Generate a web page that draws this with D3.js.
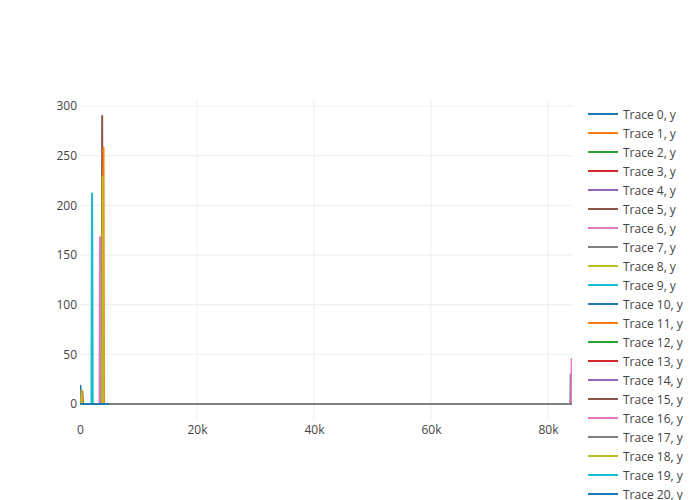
<!DOCTYPE html>
<html>
<head>
<meta charset="utf-8">
<script src="https://cdn.jsdelivr.net/npm/d3@7/dist/d3.min.js"></script>
<style>
  html, body { margin: 0; padding: 0; background: #fff; }
  svg { display: block; font-family: "Open Sans", "Noto Sans", sans-serif; }
</style>
</head>
<body>
<svg id="chart" width="700" height="500"></svg>
<script>
// ---- data ----
const traceNames = d3.range(21).map(i => "Trace " + i + ", y");
const traceColors = ["#1f77b4","#ff7f0e","#2ca02c","#d62728","#9467bd","#8c564b","#e377c2","#7f7f7f","#bcbd22","#17becf"];

const traceX = [
  [0, 80, 160],                 // 0
  [250, 330, 410],              // 1
  [0, 500, 1000],               // 2
  [320, 400, 480],              // 3
  [1000, 2500, 3000],           // 4
  [3710, 3790, 3870],           // 5
  [3340, 3420, 3500],           // 6
  [0, 83800, 83880, 83960],     // 7
  [210, 290, 370],              // 8
  [2000, 2060, 2120],           // 9
  [3730, 3810, 3890],           // 10
  [3940, 4020, 4100],           // 11
  [3790, 3870, 3950],           // 12
  [0, 1500, 4000],              // 13
  [500, 2000, 3500],            // 14
  [0, 3000, 6000],              // 15
  [83980, 84040],               // 16
  [0, 84100],                   // 17
  [3770, 3850, 3930],           // 18
  [1990, 2050, 2080, 2140],     // 19
  [0, 2000, 5000]               // 20
];
const traceY = [
  [0, 18.5, 0],
  [0, 13, 0],
  [0, 0, 0],
  [0, 12.8, 0],
  [0, 0, 0],
  [0, 290, 0],
  [0, 168, 0],
  [0, 0, 30, 0],
  [0, 13.5, 0],
  [0, 212, 0],
  [0, 158, 0],
  [0, 258, 0],
  [0, 66, 0],
  [0, 0, 0],
  [0, 0, 0],
  [0, 0, 0],
  [0, 46],
  [0, 0],
  [0, 229, 0],
  [0, 211, 176, 0],
  [0, 0, 0]
];
const yTicks = [0, 50, 100, 150, 200, 250, 300];
const xTicks = [0, 20000, 40000, 60000, 80000];
const xTickLabels = ["0", "20k", "40k", "60k", "80k"];

// ---- layout ----
const svg = d3.select("#chart");
const pL = 80, pR = 572, pT = 100, pB = 420;

const xMax = d3.max(traceX, a => d3.max(a));
const yMaxData = d3.max(traceY, a => d3.max(a));
const x = d3.scaleLinear().domain([0, xMax]).range([pL, pR]);
const padPx = 16;
const unitPerPx = yMaxData / ((pB - pT) - 2 * padPx);
const y = d3.scaleLinear()
  .domain([-padPx * unitPerPx, yMaxData + padPx * unitPerPx])
  .range([pB, pT]);

// grid
const grid = svg.append("g");
grid.selectAll("line.gy").data(yTicks).enter().append("line")
  .attr("x1", pL).attr("x2", pR)
  .attr("y1", d => y(d)).attr("y2", d => y(d))
  .attr("stroke", "#eee").attr("stroke-width", 1);
grid.selectAll("line.gx").data(xTicks.filter(d => d > 0)).enter().append("line")
  .attr("y1", pT).attr("y2", pB)
  .attr("x1", d => x(d)).attr("x2", d => x(d))
  .attr("stroke", "#eee").attr("stroke-width", 1);

// axes
const yAxis = d3.axisLeft(y).tickValues(yTicks).tickSize(0).tickPadding(3);
const gy = svg.append("g").attr("transform", `translate(${pL},0)`).call(yAxis);
gy.select(".domain").remove();
gy.selectAll("text").attr("font-size", 12).attr("fill", "#444")
  .attr("font-family", '"Open Sans", sans-serif');

const xAxis = d3.axisBottom(x).tickValues(xTicks).tickSize(0).tickPadding(5)
  .tickFormat((d, i) => xTickLabels[i]);
const gx = svg.append("g").attr("transform", `translate(0,${pB})`).call(xAxis);
gx.select(".domain").remove();
gx.selectAll("text").attr("font-size", 12).attr("fill", "#444")
  .attr("font-family", '"Open Sans", sans-serif');

// clip
svg.append("clipPath").attr("id", "plotclip").append("rect")
  .attr("x", pL).attr("y", pT).attr("width", pR - pL).attr("height", pB - pT);

const line = d3.line().x(d => x(d[0])).y(d => y(d[1]));
const plot = svg.append("g").attr("clip-path", "url(#plotclip)");
traceX.forEach((xs, i) => {
  const pts = xs.map((v, j) => [v, traceY[i][j]]);
  plot.append("path").datum(pts)
    .attr("d", line)
    .attr("fill", "none")
    .attr("stroke", traceColors[i % 10])
    .attr("stroke-width", 2)
    .attr("stroke-linejoin", "round");
});

// legend
const lg = svg.append("g");
traceNames.forEach((name, i) => {
  const yy = 114 + 19 * i;
  lg.append("line").attr("x1", 588).attr("x2", 618).attr("y1", yy).attr("y2", yy)
    .attr("stroke", traceColors[i % 10]).attr("stroke-width", 2);
  lg.append("text").attr("x", 623).attr("y", yy + 4.5)
    .attr("font-size", 12).attr("fill", "#444")
    .attr("font-family", '"Open Sans", sans-serif')
    .text(name);
});
</script>
</body>
</html>
